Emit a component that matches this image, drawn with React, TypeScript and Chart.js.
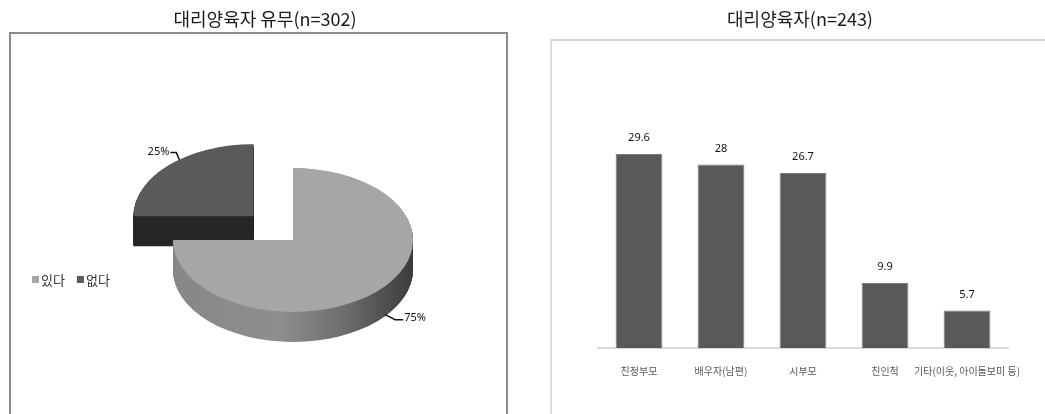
import React, { useEffect, useRef } from "react";
import { Chart, registerables } from "chart.js";

Chart.register(...registerables);

// ---------- data ----------
const PIE_TITLE = "대리양육자 유무(n=302)";
const PIE_LABELS = ["있다", "없다"];
const PIE_VALUES = [75, 25];

const BAR_TITLE = "대리양육자(n=243)";
const BAR_CATEGORIES = ["친정부모", "배우자(남편)", "시부모", "친인척", "기타(이웃, 아이돌보미 등)"];
const BAR_VALUES = [29.6, 28, 26.7, 9.9, 5.7];

// ---------- styles ----------
const KFONT = "'Noto Sans CJK KR', 'Noto Sans', sans-serif";
const NFONT = "'Noto Sans', 'DejaVu Sans', sans-serif";
const PIE_COLORS = ["#a6a6a6", "#5a5a5a"];
const PIE_SIDE_DARK = "#262626";
const BAR_COLOR = "#595959";
const TILT = 0.6; // vertical squash of the pie
const DEPTH = 30; // screen px thickness of the pie

const W = 1045;
const H = 414;
const LEFT_W = 530;
const RIGHT_W = W - LEFT_W;

function titlePlugin(text: string, x: number, y: number) {
  return {
    id: "customTitle",
    afterDraw(chart: any) {
      const ctx = chart.ctx;
      ctx.save();
      ctx.font = `18px ${KFONT}`;
      ctx.fillStyle = "#1a1a1a";
      ctx.textAlign = "center";
      ctx.textBaseline = "middle";
      ctx.fillText(text, x, y);
      ctx.restore();
    },
  };
}

function framePlugin(x: number, y: number, w: number, h: number, color: string) {
  return {
    id: "frame",
    beforeDraw(chart: any) {
      const ctx = chart.ctx;
      ctx.save();
      ctx.fillStyle = "#ffffff";
      ctx.fillRect(0, 0, chart.width, chart.height);
      ctx.strokeStyle = color;
      ctx.lineWidth = 2;
      ctx.strokeRect(x, y, w, h);
      ctx.restore();
    },
  };
}

function arcShift(arc: any) {
  const offset = (arc.options.offset || 0) / 4;
  const fix = 1 - Math.sin(Math.min(Math.PI, arc.circumference || 0));
  return offset * (1 + fix);
}

const pie3d = {
  id: "pie3d",
  beforeDatasetsDraw(chart: any) {
    const ctx = chart.ctx;
    const meta = chart.getDatasetMeta(0);
    const a0 = meta.data[0];
    const cx = a0.x;
    const cy = a0.y;
    const r = a0.outerRadius;
    ctx.save();
    ctx.translate(0, cy);
    ctx.scale(1, TILT);
    ctx.translate(0, -cy);
    const grad = ctx.createLinearGradient(cx - r, 0, cx + r, 0);
    grad.addColorStop(0, "#878787");
    grad.addColorStop(0.45, "#8e8e8e");
    grad.addColorStop(0.72, "#6c6c6c");
    grad.addColorStop(1, "#3c3c3c");
    const depth = DEPTH / TILT;
    for (let d = depth; d > 0; d -= 1) {
      ctx.save();
      ctx.translate(0, d);
      meta.data.forEach((arc: any, i: number) => {
        const orig = arc.options;
        arc.options = Object.assign({}, orig, {
          backgroundColor: i === 0 ? grad : PIE_SIDE_DARK,
          borderWidth: 0,
        });
        arc.draw(ctx);
        arc.options = orig;
      });
      ctx.restore();
    }
  },
  afterDatasetsDraw(chart: any) {
    chart.ctx.restore();
  },
};

const pieLabels = {
  id: "pieLabels",
  afterDraw(chart: any) {
    const ctx = chart.ctx;
    const meta = chart.getDatasetMeta(0);
    const total = PIE_VALUES.reduce((a, b) => a + b, 0);
    ctx.save();
    ctx.font = `11px ${NFONT}`;
    ctx.fillStyle = "#111";
    ctx.strokeStyle = "#111";
    ctx.lineWidth = 1.5;
    ctx.textBaseline = "middle";
    meta.data.forEach((arc: any, i: number) => {
      const mid = (arc.startAngle + arc.endAngle) / 2;
      const t = arcShift(arc);
      const ox = arc.x + Math.cos(mid) * t;
      const oy = arc.y + Math.sin(mid) * t;
      const txt = Math.round((PIE_VALUES[i] / total) * 100) + "%";
      if (Math.cos(mid) < 0) {
        const ang = mid + 0.12;
        const ex = ox + Math.cos(ang) * arc.outerRadius;
        const ey = arc.y + (oy + Math.sin(ang) * arc.outerRadius - arc.y) * TILT;
        ctx.beginPath();
        ctx.moveTo(ex, ey);
        ctx.lineTo(ex - 3, ey - 7);
        ctx.lineTo(ex - 9, ey - 7);
        ctx.stroke();
        ctx.textAlign = "right";
        ctx.fillText(txt, ex - 10, ey - 8);
      } else {
        const ang = mid - 0.09;
        const sx = ox + Math.cos(ang) * arc.outerRadius;
        const sy = arc.y + (oy + Math.sin(ang) * arc.outerRadius - arc.y) * TILT + DEPTH * 0.95;
        ctx.beginPath();
        ctx.moveTo(sx, sy);
        ctx.lineTo(sx + 10, sy + 5);
        ctx.lineTo(sx + 18, sy + 5);
        ctx.stroke();
        ctx.textAlign = "left";
        ctx.fillText(txt, sx + 19, sy + 3);
      }
    });
    ctx.restore();
  },
};

const pieLegend = {
  id: "pieLegend",
  afterDraw(chart: any) {
    const ctx = chart.ctx;
    const colors = chart.data.datasets[0].backgroundColor;
    ctx.save();
    ctx.font = `13px ${KFONT}`;
    ctx.textBaseline = "middle";
    ctx.textAlign = "left";
    let x = 32;
    const y = 280;
    chart.data.labels.forEach((lab: string, i: number) => {
      ctx.fillStyle = colors[i];
      ctx.fillRect(x, y - 4, 7, 7);
      ctx.fillStyle = "#333";
      ctx.fillText(lab, x + 9, y);
      x += 9 + ctx.measureText(lab).width + 12;
    });
    ctx.restore();
  },
};

const barValues = {
  id: "barValues",
  afterDatasetsDraw(chart: any) {
    const ctx = chart.ctx;
    const meta = chart.getDatasetMeta(0);
    ctx.save();
    ctx.font = `11px ${NFONT}`;
    ctx.fillStyle = "#111";
    ctx.textAlign = "center";
    ctx.textBaseline = "middle";
    meta.data.forEach((bar: any, i: number) => {
      ctx.fillText(String(BAR_VALUES[i]), bar.x, bar.y - 16);
    });
    ctx.restore();
  },
};

function PieChart() {
  const ref = useRef<HTMLCanvasElement | null>(null);
  useEffect(() => {
    if (!ref.current) return;
    const chart = new Chart(ref.current, {
      type: "pie",
      data: {
        labels: PIE_LABELS,
        datasets: [
          {
            data: PIE_VALUES,
            backgroundColor: PIE_COLORS,
            borderWidth: 0,
            offset: [0, 224],
            clip: false,
          } as any,
        ],
      },
      options: {
        responsive: false,
        animation: false,
        events: [],
        radius: 120,
        layout: { padding: { left: 100, right: 44, top: 100, bottom: 34 } },
        plugins: {
          legend: { display: false },
          title: { display: false },
          tooltip: { enabled: false },
        },
      } as any,
      plugins: [
        framePlugin(10, 33, 497, 420, "#8c8c8c"),
        pie3d,
        pieLabels,
        pieLegend,
        titlePlugin(PIE_TITLE, 265, 19),
      ],
    });
    return () => chart.destroy();
  }, []);
  return (
    <canvas
      ref={ref}
      width={LEFT_W}
      height={H}
      style={{ position: "absolute", left: 0, top: 0, width: LEFT_W, height: H }}
    />
  );
}

function BarChart() {
  const ref = useRef<HTMLCanvasElement | null>(null);
  useEffect(() => {
    if (!ref.current) return;
    const chart = new Chart(ref.current, {
      type: "bar",
      data: {
        labels: BAR_CATEGORIES,
        datasets: [
          {
            data: BAR_VALUES,
            backgroundColor: BAR_COLOR,
            borderColor: "#7a7a7a",
            borderWidth: 1,
            barPercentage: 0.57,
            categoryPercentage: 1,
          },
        ],
      },
      options: {
        responsive: false,
        animation: false,
        events: [],
        layout: { padding: { left: 68, right: 37, top: 118.5, bottom: 20 } },
        scales: {
          x: {
            grid: { display: false, drawTicks: false },
            border: { color: "#d9d9d9", width: 2 },
            ticks: {
              color: "#595959",
              font: { family: KFONT, size: 10 },
              padding: 17,
              maxRotation: 0,
              minRotation: 0,
              autoSkip: false,
            },
          },
          y: { display: false, min: 0, max: 35 },
        },
        plugins: {
          legend: { display: false },
          title: { display: false },
          tooltip: { enabled: false },
        },
      } as any,
      plugins: [
        framePlugin(21, 40, 520, 420, "#dadada"),
        barValues,
        titlePlugin(BAR_TITLE, 270, 19),
      ],
    });
    return () => chart.destroy();
  }, []);
  return (
    <canvas
      ref={ref}
      width={RIGHT_W}
      height={H}
      style={{ position: "absolute", left: LEFT_W, top: 0, width: RIGHT_W, height: H }}
    />
  );
}

export default function App() {
  return (
    <div style={{ position: "absolute", left: 0, top: 0, width: W, height: H, background: "#fff", overflow: "hidden" }}>
      <PieChart />
      <BarChart />
    </div>
  );
}
